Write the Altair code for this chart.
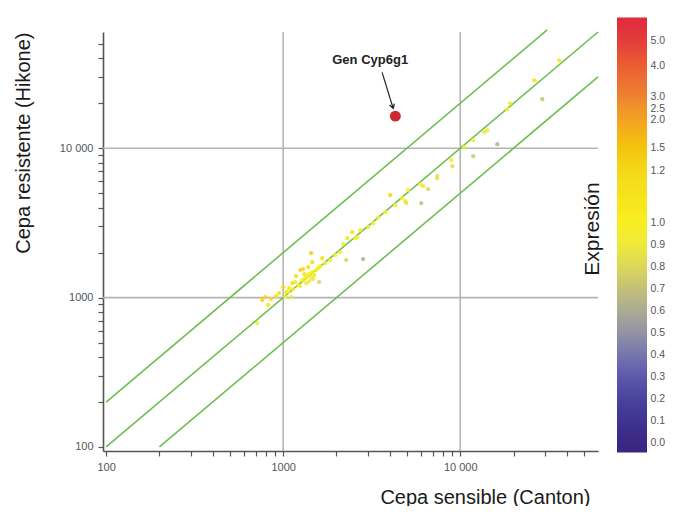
import altair as alt
import pandas as pd

# ---------------- data ----------------
canton = [713, 791, 822, 855, 1000, 1026, 1066, 1109, 1138, 1169,
          1216, 1248, 1297, 1439, 1278, 1330, 1367, 1403, 1440, 1459,
          1497, 1536, 1349, 1248, 1403, 1476, 1596, 1576, 1620, 1726,
          1843, 1967, 2100, 2270, 2455, 2553, 2300, 2620, 2830, 3020,
          3223, 3440, 3770, 4025, 4295, 4700, 4890, 4955, 5085, 6020,
          5945, 6180, 6590, 7410, 7410, 9020, 8900, 10540, 11830, 11830,
          13670, 14220, 16190, 18450, 19160, 26180, 29060, 36200, 1183, 1315,
          1385, 1124, 1081, 1040, 948, 912, 761, 2723, 2183, 1459,
          1660]
hikone = [675, 1008, 891, 977, 1175, 1008, 1089, 1008, 1140, 1270,
          1213, 1528, 1552, 1986, 1309, 1350, 1392, 1436, 1371, 1482,
          1414, 1528, 1250, 1194, 1290, 1330, 1270, 1575, 1624, 1702,
          1783, 1923, 2014, 1783, 2742, 2500, 2500, 2540, 1811, 2965,
          3150, 3450, 3730, 4850, 4160, 4630, 4420, 4285, 5240, 4285,
          5740, 5570, 5320, 6300, 6500, 7590, 8320, 10160, 8840, 11320,
          12790, 13190, 10640, 18240, 20000, 28500, 21290, 38800, 1392, 1436,
          1600, 1250, 1157, 1089, 1072, 1024, 962, 2830, 2281, 1726,
          1836]

gene_name = ["Gen Cyp6g1"]
gene_x = [4300]
gene_y = [16400]
label_x = [3100]
label_y = [38800]
arrow_x = [3620, 4180]
arrow_y = [32200, 18500]

line_id = ["x2", "x2", "x1", "x1", "x0.5", "x0.5"]
line_x = [100, 31000, 100, 60000, 200, 60000]
line_y = [200, 62000, 100, 60000, 100, 30000]

grid_vals = [1000, 10000]
axis_ticks = [100, 200, 300, 400, 500, 600, 700, 800, 900,
              1000, 2000, 3000, 4000, 5000, 6000, 7000, 8000, 9000,
              10000, 20000, 30000, 40000, 50000]

# colour bar (Expresión)
cb_labels = [0.0, 0.1, 0.2, 0.3, 0.4, 0.5, 0.6, 0.7, 0.8, 0.9, 1.0,
             1.2, 1.5, 2.0, 2.5, 3.0, 4.0, 5.0]
cb_vals = [-0.045] + cb_labels + [5.9]
cb_pix = [452, 442, 420, 398, 376, 354, 332, 310, 288, 266, 244, 222,
          170, 147, 119, 108, 96, 65, 40, 17]
cb_colors = ["#3a2580", "#3b2884", "#3f3490", "#4a449e", "#5c5aac", "#7676ae",
             "#9393a4", "#abab94", "#c4c078", "#dcd85a", "#eeea3a", "#f7ef20",
             "#f5d818", "#f4c40c", "#f2a222", "#f09428", "#ee8230", "#ea5e32",
             "#e33c3a", "#e02a3c"]

# ---------------- layout ----------------
PLOT_TOP = 31.5
FONT = "Liberation Sans, Arial, sans-serif"

x_scale = alt.Scale(type="log", domain=[96, 60000], nice=False)
y_scale = alt.Scale(type="log", domain=[94, 60000], nice=False)

label_expr = ("datum.value == 100 ? '100' : datum.value == 1000 ? '1000' : "
              "datum.value == 10000 ? '10 000' : ''")

common_axis = dict(values=axis_ticks, labelExpr=label_expr, grid=False,
                   tickSize=5, tickColor="#555", tickWidth=1.2,
                   domainColor="#555", domainWidth=1.6,
                   labelFont=FONT, labelFontSize=11, labelColor="#555",
                   labelPadding=5, labelOverlap=False, labelFlush=False,
                   titleFont=FONT, titleFontSize=20, titleFontWeight="normal",
                   titleColor="#1a1a1a")

x_axis = alt.Axis(title="Cepa sensible (Canton)", titleX=487, titleY=52,
                  titleAlign="right", titleBaseline="alphabetic", **common_axis)
y_axis = alt.Axis(title="Cepa resistente (Hikone)", titleAnchor="end",
                  titlePadding=26, **common_axis)

lines_df = pd.DataFrame({"id": line_id, "x": line_x, "y": line_y})
df = pd.DataFrame({"canton": canton, "hikone": hikone})
gene_df = pd.DataFrame({"x": gene_x, "y": gene_y})
label_df = pd.DataFrame({"x": label_x, "y": label_y, "t": gene_name})
arrow_df = pd.DataFrame({"x": arrow_x, "y": arrow_y, "o": [0, 1]})
grid_df = pd.DataFrame({"v": grid_vals})

X = lambda f: alt.X(f, scale=x_scale, axis=x_axis)
Y = lambda f: alt.Y(f, scale=y_scale, axis=y_axis)

vgrid = alt.Chart(grid_df).mark_rule(color="#b4b4b4", strokeWidth=1.6).encode(x=X("v:Q"))
hgrid = alt.Chart(grid_df).mark_rule(color="#b4b4b4", strokeWidth=1.6).encode(y=Y("v:Q"))

diag = alt.Chart(lines_df).mark_line(color="#6cbf50", strokeWidth=1.6).encode(
    x=X("x:Q"), y=Y("y:Q"), detail="id:N")

color_scale = alt.Scale(type="linear", domain=cb_vals, range=cb_colors)
points = alt.Chart(df).transform_calculate(
    ratio="datum.hikone / datum.canton"
).mark_circle(size=18, opacity=0.9).encode(
    x=X("canton:Q"), y=Y("hikone:Q"),
    color=alt.Color("ratio:Q", scale=color_scale, legend=None))

gene = alt.Chart(gene_df).mark_circle(size=120, color="#cc2a32", opacity=1).encode(
    x=X("x:Q"), y=Y("y:Q"))

label = alt.Chart(label_df).mark_text(font=FONT, fontSize=13, fontWeight="bold",
                                      color="#222").encode(
    x=X("x:Q"), y=Y("y:Q"), text="t:N")

arrow = alt.Chart(arrow_df).mark_line(color="#222", strokeWidth=1.2).encode(
    x=X("x:Q"), y=Y("y:Q"), order="o:Q")
head = alt.Chart(arrow_df.iloc[[1]]).mark_point(
    shape="M-0.6,-1L0,0L0.6,-1", filled=False, color="#222", strokeWidth=1.3,
    size=70, angle=343, opacity=1).encode(x=X("x:Q"), y=Y("y:Q"))

main = alt.layer(vgrid, hgrid, diag, points, gene, arrow, head, label)

# colour bar as a rect with a gradient, on its own piecewise y scale
cb_scale = alt.Scale(type="linear", domain=cb_vals,
                     range=[p - PLOT_TOP for p in cb_pix], zero=False, nice=False)
span = cb_pix[0] - cb_pix[-1]
stops = [alt.GradientStop(offset=(cb_pix[0] - p) / span, color=c)
         for p, c in zip(cb_pix, cb_colors)]
cb_df = pd.DataFrame({"lo": [cb_vals[0]], "hi": [cb_vals[-1]]})
cb_axis = alt.Axis(orient="right", values=cb_labels, format=".1f", ticks=False,
                   domain=False, grid=False, offset=49, labelPadding=3,
                   labelFont=FONT, labelFontSize=10.5, labelColor="#555",
                   labelOverlap=False, labelFlush=False,
                   title="Expresión", titleAngle=270, titleX=-55,
                   titleY=228 - PLOT_TOP, titleAlign="center",
                   titleBaseline="middle", titleFont=FONT, titleFontSize=21,
                   titleFontWeight="normal", titleColor="#1a1a1a")
colorbar = alt.Chart(cb_df).mark_rect(
    color=alt.Gradient(gradient="linear", stops=stops, x1=0, x2=0, y1=1, y2=0)
).encode(
    x=alt.value(514), x2=alt.value(544),
    y=alt.Y("lo:Q", scale=cb_scale, axis=cb_axis), y2="hi:Q")

chart = alt.layer(main, colorbar).resolve_scale(y="independent").properties(
    width=495, height=419,
    autosize=alt.AutoSizeParams(type="none"),
    padding={"left": 95, "top": 24, "right": 67, "bottom": 55},
    background="white",
).configure_view(stroke=None)

chart.save("out.html", embed_options={"renderer": "svg", "actions": False})
